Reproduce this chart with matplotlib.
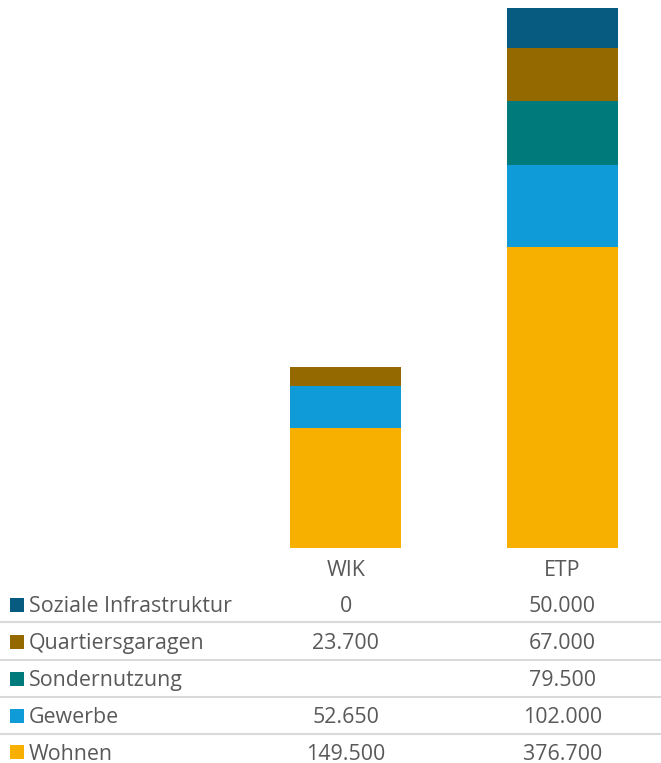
import matplotlib
matplotlib.use("Agg")
import matplotlib.pyplot as plt
import matplotlib.transforms as mtransforms
import numpy as np

categories = ["WIK", "ETP"]
series_names = ["Wohnen", "Gewerbe", "Sondernutzung", "Quartiersgaragen", "Soziale Infrastruktur"]
wohnen = [149500, 376700]
gewerbe = [52650, 102000]
sondernutzung = [None, 79500]
quartiersgaragen = [23700, 67000]
soziale = [0, 50000]
colors = ["#F8B000", "#0F9AD8", "#007A7A", "#946A00", "#085B80"]

series_values = [wohnen, gewerbe, sondernutzung, quartiersgaragen, soziale]

plt.rcParams['font.family'] = ['Open Sans', 'DejaVu Sans']
W, H = 661, 763
fig = plt.figure(figsize=(W / 100, H / 100), dpi=100)

# bar axes (in pixel coordinates)
left_px, right_px = 237.5, 670.5
bottom_px, top_px = 548, 0
ax = fig.add_axes([left_px / W, 1 - bottom_px / H, (right_px - left_px) / W, (bottom_px - top_px) / H])
x = np.arange(len(categories))
bottom = np.zeros(len(categories))
for name, vals, c in zip(series_names, series_values, colors):
    v = np.array([0 if val is None else val for val in vals], dtype=float)
    ax.bar(x, v, bottom=bottom, width=0.513, color=c, label=name)
    bottom += v
ax.set_xlim(-0.5, 1.5)
ax.set_ylim(0, 685000)
ax.axis("off")

# data table
text_color = "#595959"
fs = 15.4
trans = mtransforms.blended_transform_factory(ax.transData, fig.transFigure)

def fy(py):
    return 1 - py / H

# header
for xi, cat in zip(x, categories):
    fig.text(xi, fy(575.5), cat, transform=trans, ha="center", va="baseline", fontsize=fs, color=text_color)

def fmt(v):
    if v is None:
        return ""
    return f"{v:,.0f}".replace(",", ".")

row_y = [604.5, 641.5, 678.5, 715.5, 752]
line_y = [622, 660, 697, 734]
rows = list(zip(series_names, series_values, colors))[::-1]
for (name, vals, c), py in zip(rows, row_y):
    fig.patches.append(plt.Rectangle((9.5 / W, fy(py + 7)), 14 / W, 14 / H, transform=fig.transFigure,
                                     facecolor=c, edgecolor="none"))
    fig.text(29 / W, fy(py + 7.5), name, ha="left", va="baseline", fontsize=fs, color=text_color)
    for xi, v in zip(x, vals):
        fig.text(xi, fy(py + 7.5), fmt(v), transform=trans, ha="center", va="baseline", fontsize=fs,
                 color=text_color)
for py in line_y:
    fig.add_artist(plt.Line2D([0, 1], [fy(py), fy(py)], transform=fig.transFigure, color="#D9D9D9", lw=1.5))

fig.savefig("out.png", dpi=100)
